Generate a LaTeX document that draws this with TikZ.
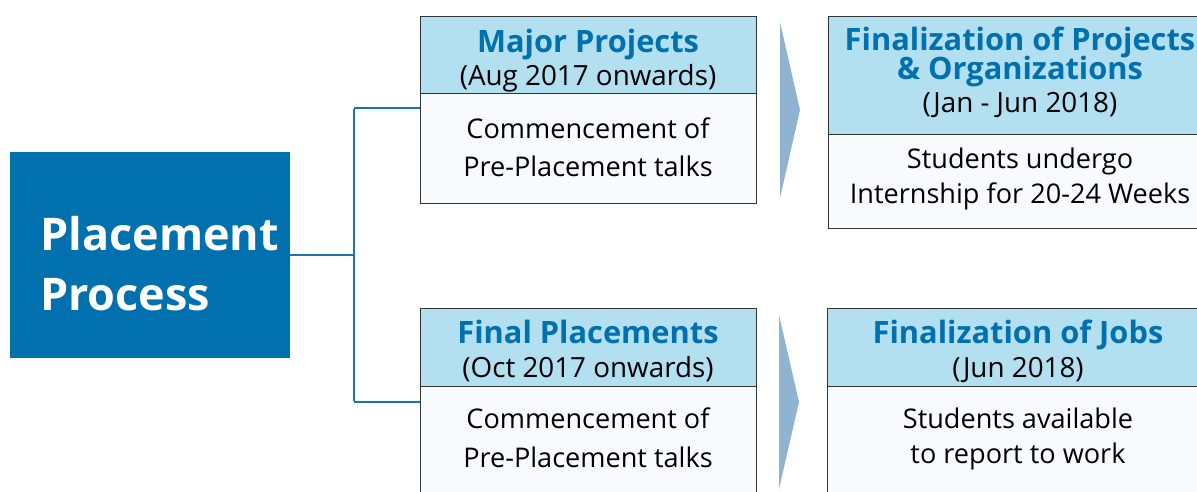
\documentclass[tikz,border=0pt]{standalone}
\usepackage{fontspec}
\setmainfont{Open Sans}
\definecolor{mainblue}{HTML}{0070AE}
\definecolor{headfill}{HTML}{B2E0F0}
\definecolor{bodyfill}{HTML}{F7FBFE}
\definecolor{arrowfill}{HTML}{8FB3D0}
\definecolor{linecol}{HTML}{1A74B0}
\definecolor{edgecol}{HTML}{333333}
\tikzset{
  boxpart/.style={draw=edgecol, line width=1.4pt, inner sep=0pt},
  headpart/.style={boxpart, fill=headfill},
  bodypart/.style={boxpart, fill=bodyfill},
  titletext/.style={anchor=base, text=mainblue, font=\fontsize{30.8}{30.8}\selectfont\bfseries, inner sep=0pt},
  subtext/.style={anchor=base, text=black, font=\fontsize{27.8}{27.8}\selectfont, inner sep=0pt},
  bodytext/.style={anchor=base, text=black, font=\fontsize{27.1}{27.1}\selectfont, inner sep=0pt},
  conn/.style={draw=linecol, line width=2.4pt},
  chevron/.style={fill=arrowfill},
}
\begin{document}
\begin{tikzpicture}[x=1pt,y=-1pt]
\useasboundingbox (0,0) rectangle (1197,491);
\clip (0,0) rectangle (1197,491);
% main box
\node[fill=mainblue, minimum width=280pt, minimum height=206pt, inner sep=0pt] (main) at (150,255) {};
\node[anchor=base west, text=white, font=\fontsize{45}{60}\selectfont\bfseries, align=left, inner sep=0pt] (maintext) at (40,310) {Placement\\Process};
% box 1
\node[headpart, minimum width=336pt, minimum height=77pt, anchor=north west] (h1) at (420,16) {};
\node[bodypart, minimum width=336pt, minimum height=110pt, anchor=north west] (b1) at (420,93) {};
\node[titletext] (t1) at (588,52) {Major Projects};
\node[subtext] (s1) at (588,85) {(Aug 2017 onwards)};
\node[bodytext] (p1a) at (588,138) {Commencement of};
\node[bodytext] (p1b) at (588,176) {Pre-Placement talks};
% box 2
\node[headpart, minimum width=384pt, minimum height=118pt, anchor=north west] (h2) at (828,16) {};
\node[bodypart, minimum width=384pt, minimum height=94pt, anchor=north west] (b2) at (828,134) {};
\node[titletext] (t2a) at (1020,50) {Finalization of Projects};
\node[titletext] (t2b) at (1020,79) {\& Organizations};
\node[subtext] (s2) at (1020,112) {(Jan - Jun 2018)};
\node[bodytext] (p2a) at (1020,168) {Students undergo};
\node[bodytext] (p2b) at (1020,203) {Internship for 20-24 Weeks};
% box 3
\node[headpart, minimum width=336pt, minimum height=78pt, anchor=north west] (h3) at (420,308) {};
\node[bodypart, minimum width=336pt, minimum height=140pt, anchor=north west] (b3) at (420,386) {};
\node[titletext] (t3) at (588,343) {Final Placements};
\node[subtext] (s3) at (588,377) {(Oct 2017 onwards)};
\node[bodytext] (p3a) at (588,428) {Commencement of};
\node[bodytext] (p3b) at (588,467) {Pre-Placement talks};
% box 4
\node[headpart, minimum width=384pt, minimum height=78pt, anchor=north west] (h4) at (827,308) {};
\node[bodypart, minimum width=384pt, minimum height=140pt, anchor=north west] (b4) at (827,386) {};
\node[titletext] (t4) at (1018,343) {Finalization of Jobs};
\node[subtext] (s4) at (1018,377) {(Jun 2018)};
\node[bodytext] (p4a) at (1018,428) {Students available};
\node[bodytext] (p4b) at (1018,463) {to report to work};
% chevrons
\fill[chevron] (780,22) -- (800,110) -- (780,198) -- cycle;
\fill[chevron] (779,315) -- (799,402) -- (779,489) -- cycle;
% connectors
\coordinate (jt) at (354,108);
\coordinate (jb) at (354,402);
\draw[conn] (main.east) -- (main.east -| jt);
\draw[conn] ([yshift=-1.2pt]jt) -- ([yshift=1.2pt]jb);
\draw[conn] (jt) -- (jt -| h1.west);
\draw[conn] (jb) -- (jb -| h3.west);
\end{tikzpicture}
\end{document}
